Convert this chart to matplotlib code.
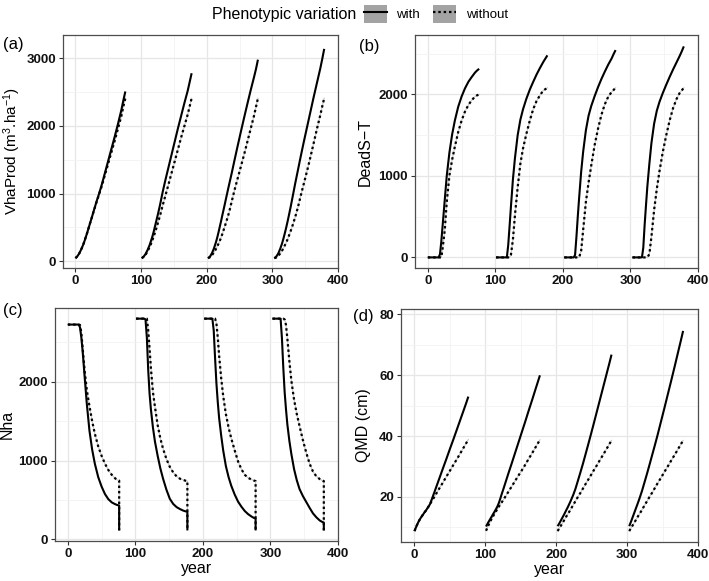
import matplotlib
matplotlib.use("Agg")
import matplotlib.pyplot as plt
from matplotlib.lines import Line2D
from matplotlib.patches import Patch
from matplotlib.legend_handler import HandlerTuple

plt.rcParams['font.family'] = ['Liberation Sans', 'DejaVu Sans']
plt.rcParams['mathtext.fontset'] = 'custom'
plt.rcParams['mathtext.rm'] = 'Liberation Sans'
plt.rcParams['mathtext.it'] = 'Liberation Sans:italic'
plt.rcParams['mathtext.bf'] = 'Liberation Sans:bold'

# ---------------- data ----------------
rotation_start = [0, 101, 202, 303]
age = [0, 3, 6, 9, 12, 14, 16, 18, 20, 22, 25, 28, 32, 36, 40, 45, 50, 55, 60, 65, 70, 73, 76]

vha_with = [
    [45, 75, 120, 180, 250, 305, 365, 425, 490, 555, 650, 750, 880, 1000, 1130, 1310, 1490, 1670, 1850, 2040, 2240, 2380, 2510],
    [45, 70, 110, 170, 240, 300, 360, 430, 510, 590, 710, 840, 1030, 1200, 1360, 1560, 1760, 1960, 2150, 2340, 2520, 2650, 2780],
    [45, 70, 120, 190, 280, 350, 430, 515, 600, 690, 820, 955, 1130, 1300, 1480, 1700, 1915, 2125, 2330, 2530, 2720, 2840, 2980],
    [45, 70, 115, 185, 270, 340, 415, 495, 580, 670, 810, 960, 1160, 1350, 1540, 1770, 1990, 2210, 2430, 2640, 2850, 2990, 3140],
]
vha_without = [
    [45, 75, 120, 180, 250, 305, 365, 425, 490, 555, 650, 745, 870, 990, 1110, 1280, 1450, 1620, 1790, 1970, 2150, 2290, 2410],
    [45, 65, 100, 150, 210, 255, 305, 360, 420, 480, 580, 680, 830, 970, 1110, 1290, 1470, 1650, 1830, 2000, 2170, 2290, 2410],
    [45, 60, 90, 130, 180, 220, 260, 305, 355, 410, 500, 590, 720, 880, 1040, 1220, 1400, 1580, 1770, 1960, 2150, 2280, 2410],
    [45, 55, 80, 115, 160, 195, 235, 275, 320, 370, 450, 535, 660, 800, 960, 1150, 1340, 1540, 1750, 1960, 2160, 2290, 2410],
]

dead_with = [
    [0, 0, 0, 0, 0, 0, 0, 40, 200, 400, 700, 1000, 1290, 1510, 1680, 1850, 1975, 2075, 2155, 2215, 2270, 2295, 2315],
    [0, 0, 0, 0, 0, 0, 0, 150, 380, 620, 960, 1220, 1500, 1690, 1820, 1950, 2060, 2155, 2245, 2325, 2400, 2440, 2480],
    [0, 0, 0, 0, 0, 0, 30, 250, 500, 730, 1050, 1300, 1560, 1740, 1860, 1980, 2090, 2190, 2280, 2365, 2440, 2495, 2545],
    [0, 0, 0, 0, 0, 0, 120, 400, 640, 870, 1150, 1400, 1640, 1800, 1910, 2020, 2120, 2215, 2305, 2390, 2475, 2530, 2590],
]
dead_without = [
    [0, 0, 0, 0, 0, 0, 0, 0, 0, 120, 330, 680, 1010, 1200, 1360, 1540, 1680, 1790, 1870, 1930, 1975, 1990, 2000],
    [0, 0, 0, 0, 0, 0, 0, 0, 0, 30, 220, 520, 860, 1150, 1340, 1520, 1680, 1820, 1920, 1990, 2050, 2065, 2082],
    [0, 0, 0, 0, 0, 0, 0, 0, 0, 0, 80, 340, 680, 920, 1130, 1380, 1580, 1750, 1880, 1970, 2030, 2055, 2082],
    [0, 0, 0, 0, 0, 0, 0, 0, 0, 0, 40, 250, 580, 840, 1060, 1300, 1500, 1680, 1830, 1940, 2020, 2050, 2082],
]

nha_with = [
    [2725, 2725, 2725, 2725, 2725, 2725, 2725, 2690, 2560, 2380, 2050, 1730, 1380, 1140, 960, 790, 670, 575, 510, 470, 447, 437, 430],
    [2800, 2800, 2800, 2800, 2800, 2790, 2560, 2150, 1850, 1650, 1420, 1240, 1060, 900, 770, 630, 515, 450, 410, 385, 365, 357, 351],
    [2800, 2800, 2800, 2800, 2800, 2650, 2300, 1980, 1740, 1540, 1320, 1130, 930, 790, 680, 570, 480, 415, 360, 320, 290, 275, 265],
    [2800, 2800, 2800, 2800, 2800, 2550, 2180, 1870, 1650, 1460, 1250, 1080, 890, 750, 640, 550, 475, 400, 330, 280, 240, 225, 212],
]
nha_without = [
    [2725, 2725, 2725, 2725, 2725, 2725, 2725, 2720, 2620, 2420, 2130, 1900, 1690, 1500, 1340, 1180, 1060, 960, 880, 820, 775, 755, 745],
    [2800, 2800, 2800, 2800, 2800, 2800, 2800, 2650, 2420, 2170, 1870, 1680, 1450, 1280, 1150, 1020, 920, 850, 800, 770, 755, 745, 740],
    [2800, 2800, 2800, 2800, 2800, 2800, 2800, 2740, 2560, 2330, 2050, 1820, 1590, 1420, 1280, 1130, 990, 890, 820, 780, 760, 748, 740],
    [2800, 2800, 2800, 2800, 2800, 2800, 2800, 2790, 2720, 2550, 2260, 2010, 1770, 1590, 1440, 1260, 1100, 960, 860, 800, 765, 750, 740],
]
nha_after_harvest = [115, 115, 115, 115]

qmd_with = [
    [8.8, 10.5, 12.0, 13.2, 14.2, 14.9, 15.5, 16.2, 16.9, 17.7, 19.6, 21.5, 24.1, 26.7, 29.3, 32.5, 35.8, 39.0, 42.3, 45.6, 48.9, 50.9, 53.0],
    [10.3, 11.6, 12.8, 14.0, 15.2, 16.0, 16.9, 18.0, 19.4, 20.9, 23.0, 25.2, 28.1, 30.9, 33.8, 37.4, 41.0, 44.6, 48.3, 51.9, 55.6, 57.8, 60.0],
    [10.4, 11.6, 12.9, 14.2, 15.6, 16.5, 17.5, 18.5, 19.6, 20.7, 22.6, 24.9, 28.0, 31.2, 34.6, 38.9, 43.3, 47.8, 52.3, 56.8, 61.3, 64.0, 66.8],
    [10.4, 12.2, 14.1, 16.0, 17.9, 19.2, 20.6, 22.0, 23.6, 25.2, 27.6, 30.1, 33.5, 36.9, 40.4, 45.0, 49.6, 54.3, 59.0, 63.8, 68.7, 71.6, 74.6],
]
qmd_without = [
    [8.8, 10.5, 12.0, 13.2, 14.2, 14.9, 15.5, 16.2, 16.9, 17.7, 18.9, 20.0, 21.6, 23.2, 24.7, 26.7, 28.6, 30.6, 32.5, 34.5, 36.5, 37.7, 38.9],
    [8.9, 10.5, 12.0, 13.3, 14.5, 15.3, 16.0, 16.8, 17.5, 18.2, 19.3, 20.4, 21.9, 23.4, 24.9, 26.8, 28.6, 30.5, 32.5, 34.4, 36.4, 37.6, 38.8],
    [8.8, 10.0, 11.1, 12.3, 13.5, 14.3, 15.0, 15.8, 16.6, 17.4, 18.6, 19.8, 21.3, 22.9, 24.5, 26.4, 28.4, 30.3, 32.3, 34.2, 36.2, 37.4, 38.6],
    [8.8, 10.0, 11.1, 12.3, 13.5, 14.3, 15.0, 15.8, 16.6, 17.4, 18.6, 19.8, 21.3, 22.9, 24.5, 26.4, 28.4, 30.3, 32.3, 34.2, 36.2, 37.4, 38.6],
]

x_ticks = [0, 100, 200, 300, 400]
x_minor = [50, 150, 250, 350]
legend_labels = ['with', 'without']
legend_title = 'Phenotypic variation'

# ---------------- style ----------------
W, H = 709, 581
fig = plt.figure(figsize=(W / 100, H / 100), dpi=100)

def fx(px):
    return px / W

def fy(px):
    return 1 - px / H

boxes = {
    'a': (63, 338, 35, 268),
    'b': (415, 698, 35, 268),
    'c': (55, 338, 308, 541),
    'd': (401, 698, 309, 542),
}

def make_ax(key):
    l, r, t, b = boxes[key]
    return fig.add_axes([fx(l), fy(b), (r - l) / W, (b - t) / H])

SOLID = dict(color='black', lw=1.5, solid_capstyle='butt', zorder=3)
DOTTED = dict(color='black', lw=1.6, linestyle=(0, (1.1, 1.3)), zorder=3)
RIBBON = dict(color='#C4C4C4', lw=0.8, zorder=2)
tick_color = '#111111'
TITLE_SIZE = 11.5


def style_ax(ax, ylim, yticks, yminor, xlabel=False):
    ax.set_xlim(-19, 400)
    ax.set_ylim(*ylim)
    ax.set_xticks(x_ticks)
    ax.set_xticks(x_minor, minor=True)
    ax.set_yticks(yticks)
    ax.set_yticks(yminor, minor=True)
    ax.grid(True, which='major', color='#E6E6E6', lw=0.9, zorder=0)
    ax.grid(True, which='minor', color='#F2F2F2', lw=0.6, zorder=0)
    ax.set_axisbelow(True)
    for s in ax.spines.values():
        s.set_color('#4d4d4d')
        s.set_linewidth(0.9)
    ax.tick_params(which='major', length=3, width=0.8, color='#333333',
                   labelsize=9.5, labelcolor=tick_color, pad=2)
    for lab in ax.get_xticklabels() + ax.get_yticklabels():
        lab.set_fontweight('bold')
    ax.tick_params(which='minor', length=0)
    if xlabel:
        ax.set_xlabel('year', fontsize=TITLE_SIZE, labelpad=1)


def draw(ax, with_data, without_data, extra=None):
    for k, start in enumerate(rotation_start):
        xs = [start + a for a in age]
        yw = list(with_data[k])
        yo = list(without_data[k])
        xw = list(xs)
        xo = list(xs)
        if extra is not None:
            xw.append(xs[-1]); yw.append(extra[k])
            xo.append(xs[-1]); yo.append(extra[k])
        ax.plot(xo, yo, **RIBBON)
        ax.plot(xo, yo, **DOTTED)
        ax.plot(xw, yw, **SOLID)


ax_a = make_ax('a')
draw(ax_a, vha_with, vha_without)
style_ax(ax_a, (-100, 3345), [0, 1000, 2000, 3000], [500, 1500, 2500])
ax_a.set_ylabel('VhaProd (m$^{3}$.ha$^{-1}$)', fontsize=11)
ax_a.yaxis.set_label_coords(-0.145, 0.5)

ax_b = make_ax('b')
draw(ax_b, dead_with, dead_without)
style_ax(ax_b, (-130, 2730), [0, 1000, 2000], [500, 1500, 2500])
ax_b.set_ylabel('DeadS\u2212T', fontsize=TITLE_SIZE)
ax_b.yaxis.set_label_coords(-0.148, 0.5)

ax_c = make_ax('c')
draw(ax_c, nha_with, nha_without, extra=nha_after_harvest)
style_ax(ax_c, (-20, 2935), [0, 1000, 2000], [500, 1500, 2500], xlabel=True)
ax_c.set_ylabel('Nha', fontsize=TITLE_SIZE)
ax_c.yaxis.set_label_coords(-0.141, 0.5)

ax_d = make_ax('d')
draw(ax_d, qmd_with, qmd_without)
style_ax(ax_d, (5.2, 81.8), [20, 40, 60, 80], [10, 30, 50, 70], xlabel=True)
ax_d.set_ylabel('QMD (cm)', fontsize=TITLE_SIZE)
ax_d.yaxis.set_label_coords(-0.101, 0.5)

# panel tags
for tag, (px, py) in {'(a)': (3, 45), '(b)': (359, 47), '(c)': (3, 311), '(d)': (353, 316)}.items():
    fig.text(fx(px), fy(py), tag, fontsize=12, ha='left', va='center')

# legend
fig.text(fx(212), fy(14), legend_title, fontsize=11.5, ha='left', va='center')
key_fill = '#A3A3A3'
handles = [
    (Patch(facecolor=key_fill, edgecolor='none'), Line2D([], [], color='black', lw=1.5)),
    (Patch(facecolor=key_fill, edgecolor='none'), Line2D([], [], color='black', lw=1.6, linestyle=(0, (1.1, 1.3)))),
]
fig.legend(handles, legend_labels, ncol=2, loc='center left',
           bbox_to_anchor=(fx(364), fy(14)), frameon=False, fontsize=9.5,
           handlelength=1.75, handleheight=1.75, handletextpad=0.7,
           columnspacing=1.0, borderpad=0, borderaxespad=0,
           handler_map={tuple: HandlerTuple(ndivide=1, pad=0)})

fig.savefig('out.png', dpi=100)
